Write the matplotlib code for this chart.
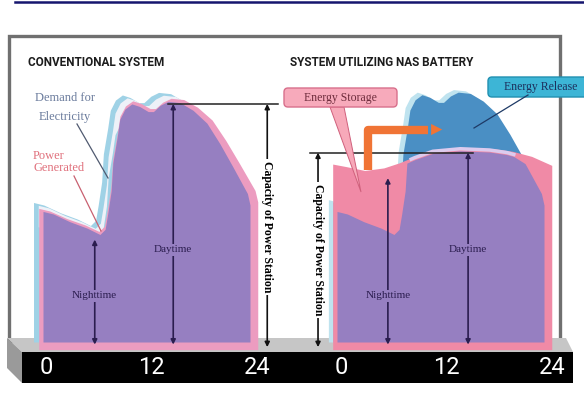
import numpy as np
import matplotlib
matplotlib.use("Agg")
import matplotlib.pyplot as plt
from matplotlib.patches import Polygon, Rectangle, FancyBboxPatch

# load curve over a day (hour, % of scale)
hours = [0, 1.2, 3.1, 5.1, 6.6, 7.2, 7.5, 7.9, 8.1, 8.6, 8.9, 9.5, 10.3, 11.2,
         12.2, 12.8, 13.6, 14.5, 15.9, 17.4, 19.0, 20.5, 22.0, 23.7, 24]
demand = [51, 50, 47, 44.5, 42, 44, 50, 59, 70, 80, 87, 91, 93, 92,
          90, 90, 92.5, 94, 93.5, 90.5, 85.5, 77.5, 68.5, 58, 53.5]

# with the NAS battery the plant runs almost flat
nas_hours = [0, 1.5, 3.5, 5.6, 7.3, 9.0, 11.1, 14.3, 17.7, 19.7, 21.8, 24]
nas_generated = [69.5, 68.5, 67, 68, 70, 72.5, 75, 76, 75.5, 74.5, 72.5, 69]

capacity = [93, 74]          # conventional, NAS
night_hour = [6.0, 5.9]
day_hour = [15.1, 15.2]
tick_hours = [0, 12, 24]
tick_labels = ['0', '12', '24']
titles = ['CONVENTIONAL SYSTEM', 'SYSTEM UTILIZING NAS BATTERY']

PURPLE = '#967fc1'
PINK = '#f08aa6'
LIGHTBLUE = '#9fd2e6'
STEEL = '#4a8fc4'
ORANGE = '#f07435'
ARROW = '#2b1d4f'
SERIF = ['Liberation Serif', 'DejaVu Serif']
SANS = ['Roboto', 'DejaVu Sans']

W, H = 584, 396
fig = plt.figure(figsize=(W / 100, H / 100), dpi=100)
fig.patch.set_facecolor('white')

# pixel overlays: background (frame, base) and foreground (titles, callouts)
bg = fig.add_axes([0, 0, 1, 1], zorder=0)
fg = fig.add_axes([0, 0, 1, 1], zorder=3)
for a in (bg, fg):
    a.set_xlim(0, W)
    a.set_ylim(H, 0)
    a.axis('off')
    a.patch.set_alpha(0)

bg.plot([15, W], [2, 2], color='#15156e', lw=1.8)
bg.add_patch(Rectangle((9, 36), 551, 305, facecolor='white', edgecolor='#707070', lw=2.4))
bg.add_patch(Polygon([(7, 338), (566, 338), (573, 352), (22, 352)], closed=True,
                     facecolor='#c6c6c6', edgecolor='none'))
bg.add_patch(Polygon([(7, 338), (22, 352), (22, 383), (7, 368)], closed=True,
                     facecolor='#9a9a9a', edgecolor='none'))
bg.add_patch(Rectangle((22, 352), 551, 31, facecolor='black', edgecolor='none'))


def panel(x0):
    ax = fig.add_axes([x0 / W, (H - 342) / H, 207 / W, 256 / H], zorder=1)
    ax.set_xlim(0, 24)
    ax.set_ylim(0, 100)
    ax.axis('off')
    ax.patch.set_alpha(0)
    return ax


def arrow(ax, x, top, bottom, color=ARROW, lw=1.2):
    ax.annotate('', xy=(x, top), xytext=(x, bottom), annotation_clip=False,
                arrowprops=dict(arrowstyle='<|-|>', color=color, lw=lw,
                                mutation_scale=7, shrinkA=0, shrinkB=0))


def purple_label(ax, x, y, s):
    ax.text(x, y, s, ha='center', va='center', fontsize=8, family=SERIF,
            color=ARROW, bbox=dict(facecolor=PURPLE, edgecolor='none', pad=1))


def capacity_label(ax, x, y):
    ax.text(x, y, 'Capacity of Power Station', rotation=270, ha='center', va='center',
            fontsize=8.5, fontweight='bold', family=SERIF,
            bbox=dict(facecolor='white', edgecolor='none', pad=1.5))


h = np.array(hours, float)
d = np.array(demand, float)
stretch = -0.5 + h * 25.4 / 24

# ---- conventional system
ax1 = panel(43)
ax1.fill_between(h - 1.1, d + 3.5, 0, color=LIGHTBLUE, lw=0, clip_on=False)
ax1.fill_between(h - 0.55, d + 2.4, d - 6, color='#eef1f8', lw=0, clip_on=False)
ax1.fill_between(stretch, d + 1.2, -3, color='#ec9cc0', lw=0, clip_on=False)
ax1.fill_between(h, d, 0, color=PURPLE, lw=0, clip_on=False)

ax1.plot([14.5, 27.3], [capacity[0]] * 2, color='#222222', lw=1.1, clip_on=False)
arrow(ax1, 26.0, capacity[0], -2, color='#111111')
capacity_label(ax1, 26.0, 45)
arrow(ax1, day_hour[0], capacity[0], -1)
arrow(ax1, night_hour[0], np.interp(night_hour[0], h, d) - 3, -1)
purple_label(ax1, day_hour[0], 36, 'Daytime')
purple_label(ax1, night_hour[0], 18, 'Nighttime')

# ---- NAS battery system
ax2 = panel(337)
g_h = np.array(nas_hours, float)
g = np.array(nas_generated, float)
grid = np.union1d(h, g_h)
dem_g = np.interp(grid, h, d)
gen_g = np.interp(grid, g_h, g)

ax2.fill_between(h - 1.0, d + 4.6, 0, color='#bfe3ef', lw=0, clip_on=False)
ax2.fill_between(h - 0.45, d + 3.6, 0, color=STEEL, lw=0, clip_on=False)
ax2.fill_between(-0.5 + g_h * 25.4 / 24, g, -3, color=PINK, lw=0, clip_on=False)
over = np.where(dem_g > gen_g, gen_g - 0.5, np.nan)
ax2.plot(grid, over, color='#dccbee', lw=2.5, clip_on=False)
ax2.fill_between(grid, np.minimum(dem_g, gen_g - 1.3), 0, color=PURPLE, lw=0, clip_on=False)

ax2.plot([-3.1, 15.8], [capacity[1]] * 2, color='#222222', lw=1.1, clip_on=False)
arrow(ax2, -2.2, capacity[1], -2, color='#111111')
capacity_label(ax2, -2.2, 36)
arrow(ax2, day_hour[1], capacity[1], -1)
arrow(ax2, night_hour[1], 64, -1)
purple_label(ax2, day_hour[1], 36, 'Daytime')
purple_label(ax2, night_hour[1], 18, 'Nighttime')

# orange transfer arrow: stored night energy moved to the day peak
ax2.plot([3.6, 3.6, 10.6], [67, 83, 83], color=ORANGE, lw=6, solid_joinstyle='round',
         solid_capstyle='butt', clip_on=False, zorder=4)
ax2.annotate('', xy=(12.2, 83), xytext=(10.2, 83), annotation_clip=False, zorder=4,
             arrowprops=dict(arrowstyle='-|>', color=ORANGE, lw=0, mutation_scale=20,
                             shrinkA=0, shrinkB=0))

# ---- hour ticks on the black base
for x0, x1 in [(46, 257), (341, 552)]:
    tk = fig.add_axes([x0 / W, (H - 383) / H, (x1 - x0) / W, 31 / H], zorder=2)
    tk.set_xlim(0, 24)
    tk.set_ylim(0, 1)
    tk.axis('off')
    tk.patch.set_alpha(0)
    for th, tl in zip(tick_hours, tick_labels):
        tk.text(th, 0.5, tl, ha='center', va='center', color='white', fontsize=17,
                family=SANS)

# ---- titles and callouts
fg.text(28, 63, titles[0], fontsize=8.5, fontweight='bold', family=SANS,
        ha='left', va='center', color='#1c1c1c')
fg.text(290, 63, titles[1], fontsize=8.5, fontweight='bold', family=SANS,
        ha='left', va='center', color='#1c1c1c')

fg.text(65, 98, 'Demand for', fontsize=9, family=SERIF, ha='center', va='center', color='#6a7b9c')
fg.text(65, 117, 'Electricity', fontsize=9, family=SERIF, ha='center', va='center', color='#6a7b9c')
fg.plot([77, 108], [124, 178], color='#505a70', lw=0.9)
fg.text(33, 156, 'Power', fontsize=9, family=SERIF, ha='left', va='center', color='#e0707c')
fg.text(33, 168, 'Generated', fontsize=9, family=SERIF, ha='left', va='center', color='#e0707c')
fg.plot([74, 101], [176, 231], color='#c86070', lw=0.9)

fg.add_patch(Polygon([(330, 107), (344, 107), (361, 192)], closed=True,
                     facecolor='#f7a9b9', edgecolor='#d0607c', lw=0.7))
fg.add_patch(FancyBboxPatch((284, 88), 113, 19, boxstyle='round,pad=0,rounding_size=4',
                            facecolor='#f7aabb', edgecolor='#d8708c', lw=1))
fg.text(340, 98, 'Energy Storage', fontsize=8.5, family=SERIF, ha='center', va='center',
        color='#6e2c3c')

fg.plot([528, 474], [95, 128], color='#1e3a66', lw=0.9)
fg.add_patch(FancyBboxPatch((488, 77), 120, 20, boxstyle='round,pad=0,rounding_size=4',
                            facecolor='#3db5d6', edgecolor='#2190b0', lw=1, clip_on=False))
fg.text(504, 87, 'Energy Release', fontsize=8.5, family=SERIF, ha='left', va='center',
        color='#1d2f5c')

fig.savefig('out.png', dpi=100)
